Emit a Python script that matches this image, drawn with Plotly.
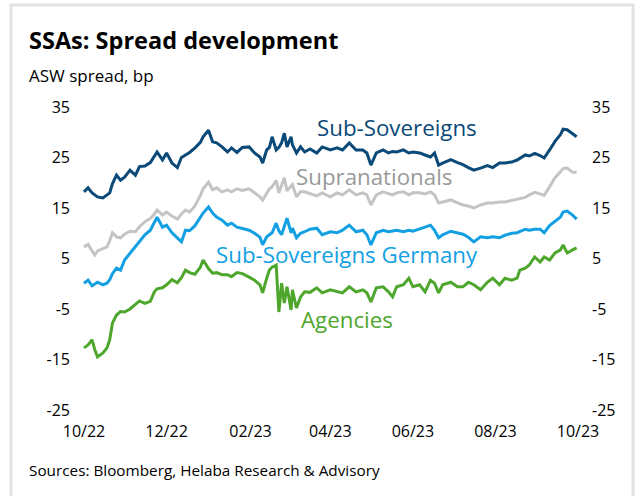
import plotly.graph_objects as go

dates = ["2022-10-01","2022-10-04","2022-10-07","2022-10-09","2022-10-11","2022-10-15","2022-10-18","2022-10-20","2022-10-22","2022-10-25",
         "2022-10-28","2022-10-31","2022-11-04","2022-11-08","2022-11-11","2022-11-15","2022-11-19","2022-11-22","2022-11-24","2022-11-28",
         "2022-12-01","2022-12-05","2022-12-09","2022-12-12","2022-12-15","2022-12-18","2022-12-22","2022-12-26","2022-12-28","2023-01-01",
         "2023-01-04","2023-01-07","2023-01-11","2023-01-15","2023-01-18","2023-01-22","2023-01-26","2023-01-31","2023-02-04","2023-02-08",
         "2023-02-10","2023-02-13","2023-02-15","2023-02-17","2023-02-20","2023-02-22","2023-02-24","2023-02-26","2023-02-28","2023-03-03",
         "2023-03-04","2023-03-07","2023-03-10","2023-03-13","2023-03-17","2023-03-22","2023-03-26","2023-04-01","2023-04-06","2023-04-10",
         "2023-04-15","2023-04-20","2023-04-25","2023-04-28","2023-05-01","2023-05-05","2023-05-10","2023-05-14","2023-05-17","2023-05-20",
         "2023-05-25","2023-05-29","2023-06-01","2023-06-06","2023-06-10","2023-06-14","2023-06-17","2023-06-20","2023-06-23","2023-06-29",
         "2023-07-04","2023-07-08","2023-07-12","2023-07-16","2023-07-21","2023-07-26","2023-07-30","2023-08-04","2023-08-08","2023-08-13",
         "2023-08-17","2023-08-19","2023-08-23","2023-08-26","2023-08-30","2023-09-03","2023-09-06","2023-09-10","2023-09-14","2023-09-18",
         "2023-09-20","2023-09-23","2023-09-27","2023-09-30"]

sub_sovereigns = [18.2, 19.0, 18.0, 17.6, 17.2, 17.0, 17.6, 18.0, 19.8, 21.5,
                  20.5, 21.1, 22.5, 21.5, 23.2, 23.3, 24.0, 25.3, 26.1, 24.5,
                  25.9, 23.9, 23.0, 25.0, 25.5, 26.0, 26.9, 28.0, 29.1, 30.4,
                  28.1, 27.9, 27.1, 26.1, 26.9, 26.0, 27.0, 27.1, 25.9, 25.1,
                  23.9, 26.5, 27.0, 29.1, 26.5, 27.0, 27.9, 29.8, 27.1, 29.1,
                  27.5, 25.9, 27.1, 26.1, 26.7, 25.9, 27.1, 26.5, 26.9, 26.5,
                  27.9, 26.5, 26.5, 25.9, 23.5, 25.9, 26.5, 25.9, 26.2, 26.1,
                  26.5, 25.9, 26.1, 25.9, 25.5, 25.1, 25.9, 23.5, 23.9, 24.6,
                  24.0, 23.6, 23.0, 22.5, 22.9, 23.4, 23.0, 23.9, 23.9, 24.1,
                  24.5, 24.8, 25.5, 25.3, 25.8, 25.4, 24.9, 26.5, 28.2, 29.5,
                  30.6, 30.5, 29.6, 29.1]

supranationals = [7.3, 7.8, 6.5, 5.7, 6.5, 7.0, 7.3, 8.5, 10.1, 9.3,
                  9.1, 9.8, 10.4, 10.3, 11.3, 12.3, 12.9, 13.8, 14.6, 13.6,
                  14.2, 13.4, 12.8, 13.8, 14.6, 14.2, 15.4, 17.5, 18.8, 20.1,
                  18.6, 19.0, 18.2, 18.6, 18.2, 18.8, 18.5, 18.8, 18.0, 17.2,
                  16.6, 18.0, 18.8, 19.2, 20.5, 18.0, 19.6, 21.0, 18.4, 19.2,
                  19.6, 17.2, 18.2, 18.2, 17.8, 17.4, 18.0, 17.2, 18.0, 17.6,
                  18.6, 17.6, 18.0, 17.6, 15.6, 17.6, 18.2, 17.8, 17.6, 18.0,
                  18.2, 17.6, 18.0, 18.0, 17.8, 18.2, 17.6, 16.0, 16.2, 16.6,
                  16.0, 15.6, 15.4, 15.0, 15.6, 16.0, 16.0, 16.2, 16.2, 16.5,
                  16.8, 17.0, 17.1, 17.6, 18.1, 17.8, 17.5, 19.2, 21.0, 22.2,
                  22.8, 22.9, 22.1, 22.1]

sub_sovereigns_germany = [0.1, 0.7, -0.4, 0.0, 0.3, -0.2, 0.1, 0.8, 2.0, 3.1,
                          2.7, 4.7, 6.1, 7.3, 8.3, 9.7, 10.6, 12.2, 13.2, 11.2,
                          11.6, 10.1, 9.1, 8.3, 10.6, 10.5, 11.5, 13.2, 14.0, 15.2,
                          14.0, 13.2, 12.6, 11.6, 12.0, 11.2, 11.0, 10.6, 10.0, 9.2,
                          7.7, 9.3, 9.7, 10.1, 12.0, 10.5, 9.7, 11.6, 13.0, 10.1,
                          11.0, 9.1, 10.0, 10.3, 10.8, 11.0, 9.7, 10.3, 10.1, 10.6,
                          11.6, 10.3, 10.6, 9.7, 7.7, 10.1, 10.6, 10.3, 10.4, 10.6,
                          10.3, 10.6, 10.4, 10.8, 11.2, 11.6, 10.6, 9.1, 9.7, 10.4,
                          10.1, 9.8, 9.2, 8.3, 9.3, 9.1, 9.3, 9.1, 9.6, 10.0,
                          10.1, 10.3, 10.8, 10.6, 10.8, 10.8, 10.1, 11.5, 12.3, 13.2,
                          14.2, 14.4, 13.6, 12.8]

agencies = [-12.7, -12.1, -11.1, -13.1, -14.5, -13.7, -12.7, -11.1, -7.8, -6.2,
            -5.5, -5.6, -5.0, -4.0, -3.4, -3.9, -3.5, -1.6, -1.0, -0.8,
            -0.2, 0.8, 0.2, 1.2, 2.7, 2.2, 1.9, 3.3, 4.7, 3.0,
            2.1, 2.2, 1.8, 1.8, 1.4, 2.2, 2.0, 1.3, 0.7, -0.2,
            -1.8, 1.1, 2.7, 3.3, 3.7, -5.6, 0.1, -3.8, -0.6, -5.2,
            -1.2, -4.8, -2.6, -1.6, -1.7, -0.8, -1.8, -1.2, -1.6, -1.8,
            -0.6, -1.6, -1.2, -1.8, -3.6, -0.8, -0.6, -1.6, -2.6, -0.6,
            -0.2, 1.1, -0.6, -0.2, -1.6, 0.7, 0.1, -1.8, -0.2, 0.3,
            -0.6, -0.6, 0.3, -0.2, -1.2, 0.3, 1.1, -0.2, 1.1, 0.7,
            1.1, 2.7, 3.1, 3.7, 5.3, 4.3, 5.3, 4.7, 6.1, 6.7,
            7.7, 6.1, 6.7, 7.1]

series_names = ["Sub-Sovereigns", "Supranationals", "Sub-Sovereigns Germany", "Agencies"]
line_colors = ["#0b4a78", "#c4c4c4", "#12a0e2", "#4ea62c"]
label_colors = ["#0b4a78", "#9a9a9a", "#12a0e2", "#4ea62c"]
y_ticks = [-25, -15, -5, 5, 15, 25, 35]
y_ticktext = ["-25", "-15", "-5", "5", "15", "25", "35"]

FONT = "Open Sans"

fig = go.Figure()
all_series = [sub_sovereigns, supranationals, sub_sovereigns_germany, agencies]
for name, vals, col in zip(series_names, all_series, line_colors):
    fig.add_trace(go.Scatter(x=dates, y=vals, mode="lines", name=name,
                             line=dict(color=col, width=3), yaxis="y" if name != "Agencies" else "y2"))

# series labels (paper coords)
label_pos = [(0.632, 0.931), (0.585, 0.769), (0.532, 0.512), (0.532, 0.300)]
for name, col, (px, py) in zip(series_names, label_colors, label_pos):
    fig.add_annotation(text=name, x=px, y=py, xref="paper", yref="paper",
                       xanchor="center", yanchor="middle", showarrow=False,
                       font=dict(family=FONT, size=22.3, color=col))

W, H = 640, 496
ML, MR, MT, MB = 81, 59, 107, 86
pw, ph = W - ML - MR, H - MT - MB

def px2paper(x, y):
    return (x - ML) / pw, (H - MB - y) / ph

tx, ty = px2paper(27, 40)
fig.add_annotation(text="<b>SSAs: Spread development</b>", x=tx, y=ty, xref="paper", yref="paper",
                   xanchor="left", yanchor="middle", showarrow=False,
                   font=dict(family=FONT, size=23.5, color="#000000"))
sx, sy = px2paper(27, 75)
fig.add_annotation(text="ASW spread, bp", x=sx, y=sy, xref="paper", yref="paper",
                   xanchor="left", yanchor="middle", showarrow=False,
                   font=dict(family=FONT, size=17, color="#000000"))
bx, by = px2paper(27, 470)
fig.add_annotation(text="Sources: Bloomberg, Helaba Research &amp; Advisory", x=bx, y=by, xref="paper", yref="paper",
                   xanchor="left", yanchor="middle", showarrow=False,
                   font=dict(family=FONT, size=15.3, color="#000000"))

# frame
x0, y1 = px2paper(11, 5)
x1, y0 = px2paper(633, 520)
fig.add_shape(type="rect", xref="paper", yref="paper", x0=x0, x1=x1, y0=y0, y1=y1,
              line=dict(color="#e2e2e2", width=3), fillcolor="rgba(0,0,0,0)", layer="below")

yax = dict(range=[-25, 35], tickvals=y_ticks, ticktext=y_ticktext, showgrid=False, zeroline=False, showline=False,
           ticks="", ticklabelstandoff=10, tickfont=dict(family=FONT, size=16, color="#000000"), fixedrange=True)

fig.update_layout(
    width=W, height=H,
    margin=dict(l=ML, r=MR, t=MT, b=MB, pad=0),
    paper_bgcolor="white", plot_bgcolor="white",
    showlegend=False,
    xaxis=dict(type="date", range=["2022-09-28 19:00", "2023-10-03 05:00"], tick0="2022-10-01", dtick="M2",
               tickformat="%m/%y", showgrid=False, zeroline=False, showline=False, ticks="",
               ticklabelstandoff=10, tickfont=dict(family=FONT, size=16, color="#000000"), fixedrange=True),
    yaxis=dict(**yax, side="left"),
    yaxis2=dict(**yax, side="right", overlaying="y"),
)

fig.write_html("out.html", config={"displayModeBar": False},
               post_script="document.body.style.margin='0';document.body.style.overflow='hidden';")
